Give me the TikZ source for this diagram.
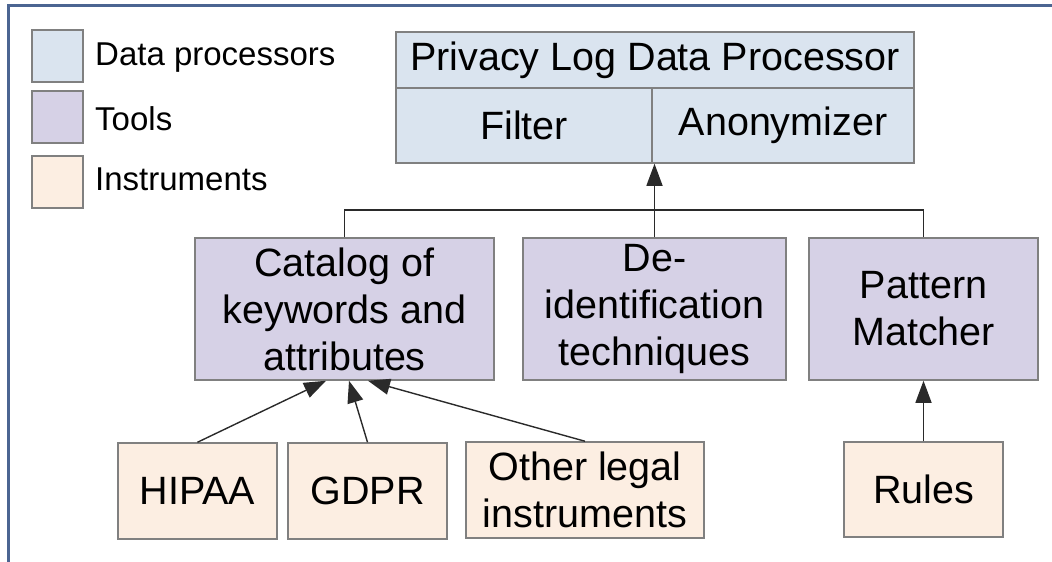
\documentclass[tikz,border=0pt]{standalone}
\usepackage{fontspec}
\setmainfont{Liberation Sans}
\usetikzlibrary{arrows.meta}
\definecolor{procblue}{HTML}{DAE4EF}
\definecolor{toolviolet}{HTML}{D6D1E6}
\definecolor{instpeach}{HTML}{FCEEE2}
\definecolor{frameblue}{HTML}{4B6592}
\definecolor{boxgray}{HTML}{808080}
\definecolor{wiregray}{HTML}{2A2A2A}

\begin{document}
\begin{tikzpicture}[x=1pt, y=-1pt,
  box/.style={draw=boxgray, line width=1.5pt, inner sep=0, align=center, font=\fontsize{39.5}{47}\selectfont},
  proc/.style={box, fill=procblue},
  tool/.style={box, fill=toolviolet},
  inst/.style={box, fill=instpeach},
  wire/.style={draw=wiregray, line width=1.4pt},
  >={Triangle[length=22pt, width=16pt]}]
\useasboundingbox (0,0) rectangle (1052,562);
\draw[frameblue, line width=3pt] (8,562) -- (8,5) -- (1052,5);

% legend
\foreach \n/\y/\b/\c/\t in {1/56/65/procblue/Data processors, 2/117/130/toolviolet/Tools, 3/182/190/instpeach/Instruments} {
 \node[box, fill=\c, minimum width=51, minimum height=52, name=leg\n] at (57.5,\y) {};
 \node[anchor=base west, inner sep=0, font=\fontsize{33}{38}\selectfont, name=legtext\n] at (95,\b) {\t};
}

% data processor
\node[proc, minimum width=518, minimum height=56] (pldp) at (655,60) {Privacy Log Data Processor};
\node[proc, minimum width=256, minimum height=75] (filter) at (524,125.5) {Filter};
\node[proc, minimum width=262, minimum height=75] (anon) at (783,125.5) {Anonymizer};

% tools
\node[tool, minimum width=299, minimum height=142] (cat) at (344.5,309) {Catalog of\\keywords and\\attributes};
\node[tool, minimum width=263, minimum height=142] (deid) at (654.5,309) {De-\\identification\\techniques};
\node[tool, minimum width=229, minimum height=142] (pm) at (923.5,309) {Pattern\\Matcher};

% instruments
\node[inst, minimum width=159, minimum height=96] (hipaa) at (197.5,491) {HIPAA};
\node[inst, minimum width=159, minimum height=96] (gdpr) at (367.5,491) {GDPR};
\node[inst, minimum width=238, minimum height=96] (other) at (585,490) {Other legal\\instruments};
\node[inst, minimum width=159, minimum height=95] (rules) at (923.5,489.5) {Rules};

% connectors
\coordinate (bus) at (654.5,210);
\draw[wire] (cat.north) |- (bus) -| (pm.north);
\draw[wire, ->] (deid.north) -- (deid.north |- anon.south);
\draw[wire, ->] (hipaa.north) -- ([xshift=-18.5pt]cat.south);
\draw[wire, ->] (gdpr.north) -- ([xshift=4.5pt]cat.south);
\draw[wire, ->] (other.north) -- ([xshift=23.5pt]cat.south);
\draw[wire, ->] (rules.north) -- (pm.south);
\end{tikzpicture}
\end{document}
